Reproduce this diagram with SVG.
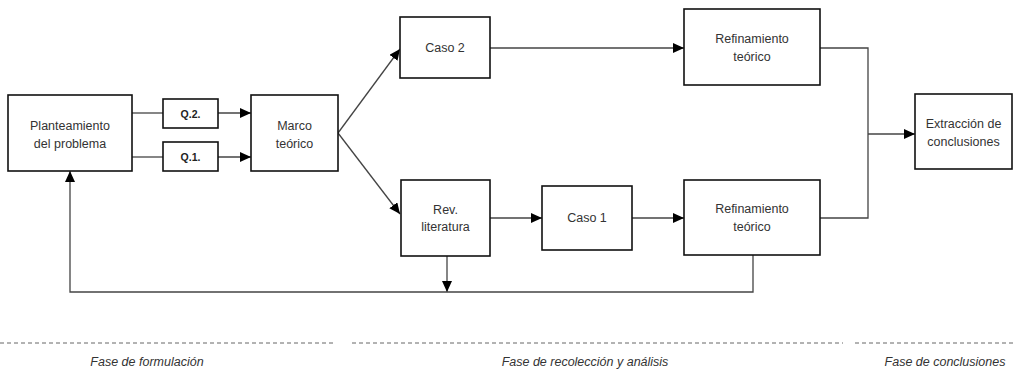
<svg xmlns="http://www.w3.org/2000/svg" width="1016" height="372" viewBox="0 0 1016 372">
  <style>
    .box { fill: #ffffff; stroke: #111111; stroke-width: 1.6; }
    .lbl { font-family: "Liberation Sans", Arial, sans-serif; font-size: 12.5px; fill: #333333; text-anchor: middle; }
    .q { font-family: "Liberation Sans", Arial, sans-serif; font-size: 10.5px; font-weight: bold; fill: #222222; text-anchor: middle; }
    .phase { font-family: "Liberation Sans", Arial, sans-serif; font-size: 12.5px; font-style: italic; fill: #333333; text-anchor: middle; }
    .wire { fill: none; stroke: #444444; stroke-width: 1.3; }
    .arrow { fill: none; stroke: #444444; stroke-width: 1.3; marker-end: url(#head); }
    .dash { stroke: #666666; stroke-width: 1; stroke-dasharray: 4 3; }
  </style>
  <defs>
    <marker id="head" markerUnits="userSpaceOnUse" markerWidth="12" markerHeight="10" refX="11" refY="5" orient="auto">
      <path d="M0,0 L11,5 L0,10 Z" fill="#000000"/>
    </marker>
  </defs>

  <!-- connectors -->
  <g id="connectors">
    <line class="wire" x1="132" y1="113" x2="163" y2="113"/>
    <line class="wire" x1="132" y1="157" x2="163" y2="157"/>
    <line class="arrow" x1="218" y1="113" x2="251" y2="113"/>
    <line class="arrow" x1="218" y1="157" x2="251" y2="157"/>
    <line class="arrow" x1="338" y1="133" x2="400" y2="49"/>
    <line class="arrow" x1="338" y1="133" x2="400" y2="214"/>
    <line class="arrow" x1="490" y1="48" x2="684" y2="48"/>
    <line class="arrow" x1="490" y1="218" x2="542" y2="218"/>
    <line class="arrow" x1="632" y1="218" x2="684" y2="218"/>
    <polyline class="wire" points="820,48 868,48 868,218 820,218"/>
    <line class="arrow" x1="868" y1="134" x2="915" y2="134"/>
    <line class="arrow" x1="447" y1="256" x2="447" y2="292"/>
    <polyline class="arrow" points="753,255 753,292 70,292 70,171"/>
  </g>

  <g id="planteamiento">
    <rect class="box" x="8" y="95" width="124" height="76"/>
    <text class="lbl" x="70" y="130">Planteamiento</text>
    <text class="lbl" x="70" y="148">del problema</text>
  </g>
  <g id="q2">
    <rect class="box" x="163" y="99" width="55" height="29"/>
    <text class="q" x="190.5" y="117.5">Q.2.</text>
  </g>
  <g id="q1">
    <rect class="box" x="163" y="142" width="55" height="29"/>
    <text class="q" x="190.5" y="160.5">Q.1.</text>
  </g>
  <g id="marco">
    <rect class="box" x="251" y="95" width="87" height="76"/>
    <text class="lbl" x="294.5" y="130">Marco</text>
    <text class="lbl" x="294.5" y="148">teórico</text>
  </g>
  <g id="caso2">
    <rect class="box" x="400" y="17" width="90" height="61"/>
    <text class="lbl" x="445" y="52">Caso 2</text>
  </g>
  <g id="refinamiento-sup">
    <rect class="box" x="684" y="9" width="136" height="76"/>
    <text class="lbl" x="752" y="43">Refinamiento</text>
    <text class="lbl" x="752" y="61">teórico</text>
  </g>
  <g id="revision">
    <rect class="box" x="401" y="180" width="89" height="76"/>
    <text class="lbl" x="445.5" y="214">Rev.</text>
    <text class="lbl" x="445.5" y="231">literatura</text>
  </g>
  <g id="caso1">
    <rect class="box" x="542" y="186" width="90" height="64"/>
    <text class="lbl" x="587" y="222">Caso 1</text>
  </g>
  <g id="refinamiento-inf">
    <rect class="box" x="684" y="180" width="136" height="75"/>
    <text class="lbl" x="752" y="213">Refinamiento</text>
    <text class="lbl" x="752" y="231">teórico</text>
  </g>
  <g id="extraccion">
    <rect class="box" x="915" y="94" width="97" height="75"/>
    <text class="lbl" x="963.5" y="128">Extracción de</text>
    <text class="lbl" x="963.5" y="146">conclusiones</text>
  </g>

  <!-- phase bands -->
  <g id="fases">
    <line class="dash" x1="0" y1="343" x2="335" y2="343"/>
    <line class="dash" x1="352" y1="343" x2="843" y2="343"/>
    <line class="dash" x1="855" y1="343" x2="1016" y2="343"/>
    <text class="phase" x="147" y="366">Fase de formulación</text>
    <text class="phase" x="585" y="366">Fase de recolección y análisis</text>
    <text class="phase" x="945" y="366">Fase de conclusiones</text>
  </g>
</svg>
